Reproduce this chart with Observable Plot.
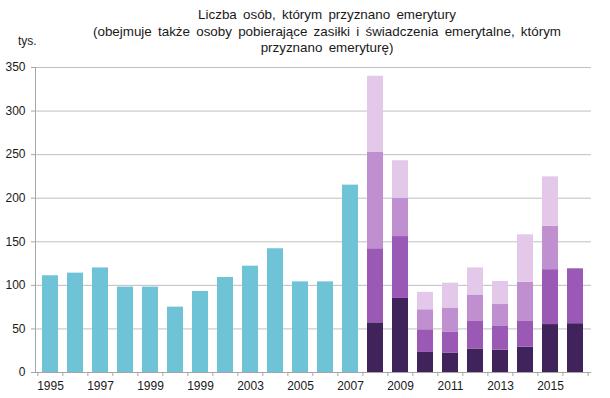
<!DOCTYPE html>
<html>
<head>
<meta charset="utf-8">
<script src="https://cdn.jsdelivr.net/npm/d3@7"></script>
<script src="https://cdn.jsdelivr.net/npm/@observablehq/plot@0.6"></script>
<style>
  html, body { margin: 0; padding: 0; background: #fff; }
  #wrap { position: relative; width: 610px; height: 398px; font-family: "Liberation Sans", Arial, sans-serif; color: #1a1a1a; }
  #title { height: 56px; box-sizing: border-box; padding-top: 7px; text-align: center; font-size: 13.4px; line-height: 16.5px; word-spacing: 2.5px; padding-left: 44px; }
  #unit { position: absolute; left: 18px; top: 34px; font-size: 12px; }
  svg { display: block; }
</style>
</head>
<body>
<div id="wrap">
  <div id="title">Liczba osób, którym przyznano emerytury<br>(obejmuje także osoby pobierające zasiłki i świadczenia emerytalne, którym<br>przyznano emeryturę)</div>
  <div id="unit">tys.</div>
  <div id="chart"></div>
</div>
<script>
// Years on the axis
const years = [1995,1996,1997,1998,1999,2000,2001,2002,2003,2004,2005,2006,2007,2008,2009,2010,2011,2012,2013,2014,2015,2016];
// Tick labels as printed in the original (note the repeated "1999")
const tickLabels = ["1995","","1997","","1999","","1999","","2003","","2005","","2007","","2009","","2011","","2013","","2015",""];
// Single-series years 1995-2007 (thousands)
const singleYears = [1995,1996,1997,1998,1999,2000,2001,2002,2003,2004,2005,2006,2007];
const singleValues = [111,114,120,98,98,75,93,109,122,142,104,104,215];
// Stacked years 2008-2016, four segments (bottom to top)
const stackYears = [2008,2009,2010,2011,2012,2013,2014,2015,2016];
const seg1 = [57,85,23,22,27,25.5,29,55,56];
const seg2 = [85,71,26,24,31.5,28,29.5,63,63];
const seg3 = [111,44,23,28,30.5,24.5,45,50,0];
const seg4 = [87,43,20,28.5,31,26.5,54.5,56.5,0];
const segNames = ["s1","s2","s3","s4"];
const segColors = ["#40235a","#9b59b6","#c08fd0","#e3c8ea"];
const tealColor = "#6ec3d6";
const yTicks = [0,50,100,150,200,250,300,350];

const single = singleYears.map((y, i) => ({year: String(y), value: singleValues[i]}));
const stacked = [];
[seg1, seg2, seg3, seg4].forEach((seg, k) => {
  stackYears.forEach((y, i) => stacked.push({year: String(y), series: segNames[k], value: seg[i]}));
});
const labelOf = new Map(years.map((y, i) => [String(y), tickLabels[i]]));

const width = 610, height = 342;
const marginLeft = 35, marginRight = 19;
const step = (width - marginLeft - marginRight) / years.length;

const chart = Plot.plot({
  width, height,
  marginTop: 11, marginBottom: 26, marginLeft, marginRight,
  style: {fontFamily: "Liberation Sans, Arial, sans-serif", fontSize: "12px", color: "#1a1a1a", background: "#fff"},
  x: {domain: years.map(String), paddingInner: 0.35, paddingOuter: 0.175, label: null},
  y: {domain: [0, 350], label: null},
  color: {domain: segNames, range: segColors},
  marks: [
    Plot.gridY(yTicks, {stroke: "#bfbfbf", strokeOpacity: 1}),
    Plot.barY(single, {x: "year", y: "value", fill: tealColor}),
    Plot.barY(stacked, {x: "year", y: "value", fill: "series", order: segNames}),
    Plot.ruleY([0], {stroke: "#a6a6a6"}),
    Plot.frame({anchor: "left", stroke: "#a6a6a6"}),
    Plot.axisY(yTicks, {tickSize: 4, tickPadding: 6, stroke: "#a6a6a6", fill: "#1a1a1a", label: null}),
    Plot.axisX(years.map(String), {tickSize: 0, tickPadding: 9, tickFormat: d => labelOf.get(d), fill: "#1a1a1a", label: null}),
    Plot.axisX(years.map(String), {tickSize: 4, tickFormat: () => "", dx: -step / 2, stroke: "#a6a6a6", label: null}),
    Plot.axisX([String(years[years.length - 1])], {tickSize: 4, tickFormat: () => "", dx: step / 2, stroke: "#a6a6a6", label: null})
  ]
});
document.getElementById("chart").appendChild(chart);
</script>
</body>
</html>
